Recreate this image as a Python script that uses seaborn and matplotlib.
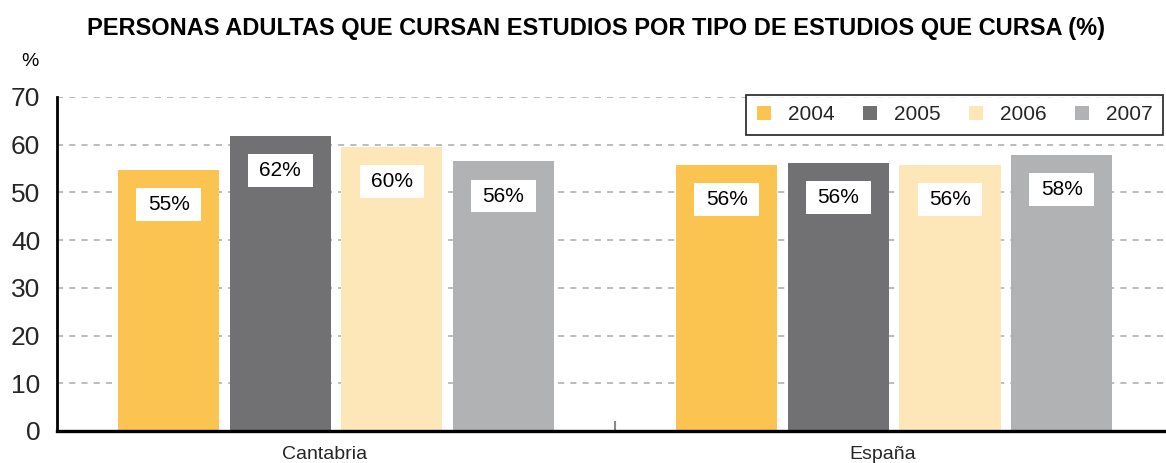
import matplotlib
matplotlib.use("Agg")
import matplotlib.pyplot as plt
import matplotlib.transforms as mtrans
import seaborn as sns
import pandas as pd
from matplotlib.patches import Patch, Rectangle

regions = ["Cantabria", "España"]
years = ["2004", "2005", "2006", "2007"]
cantabria = [54.7, 61.8, 59.6, 56.5]
espana = [55.7, 56.1, 55.7, 57.8]
labels_cantabria = ["55%", "62%", "60%", "56%"]
labels_espana = ["56%", "56%", "56%", "58%"]
colors = ["#FBC34F", "#717173", "#FDE6B8", "#B1B2B4"]
yticks = [0, 10, 20, 30, 40, 50, 60, 70]
title = "PERSONAS ADULTAS QUE CURSAN ESTUDIOS POR TIPO DE ESTUDIOS QUE CURSA (%)"

rows = []
for i, y in enumerate(years):
    rows.append({"region": regions[0], "year": y, "value": cantabria[i], "label": labels_cantabria[i]})
    rows.append({"region": regions[1], "year": y, "value": espana[i], "label": labels_espana[i]})
df = pd.DataFrame(rows)

sns.set_theme(style="white")
plt.rcParams["font.family"] = ["Liberation Sans", "DejaVu Sans"]

fig = plt.figure(figsize=(11.66, 4.63), dpi=100)
ax = fig.add_axes([57 / 1166, 1 - 431 / 463, 1 - 57 / 1166, (431 - 97) / 463])

sns.barplot(data=df, x="region", y="value", hue="year", order=regions, hue_order=years,
            palette=colors, width=0.8, gap=0.095, saturation=1, ax=ax, legend=False,
            linewidth=0, edgecolor="none")

ax.set_ylim(0, 70)
ax.set_xlim(-0.5, 1.487)
ax.set_yticks(yticks)
ax.set_yticklabels([str(t) for t in yticks], fontsize=19)
ax.tick_params(axis="y", length=0, pad=12)
ax.tick_params(axis="x", which="major", length=0, labelsize=14, pad=11)
ax.set_xlabel("")
ax.set_ylabel("")
ax.yaxis.grid(True, color="#AAAAAA", linestyle=(0, (4, 4)), linewidth=1.1)
ax.set_axisbelow(True)
for s in ["top", "right"]:
    ax.spines[s].set_visible(False)
ax.spines["left"].set_linewidth(2.0)
ax.spines["left"].set_color("black")
ax.spines["bottom"].set_linewidth(2.4)
ax.spines["bottom"].set_color("black")
ax.set_xticks([0.5], minor=True)
ax.tick_params(axis="x", which="minor", bottom=True, direction="in", length=7, width=1.5,
               color="#888888")

offset = mtrans.ScaledTranslation(-12 / 100, 0, fig.dpi_scale_trans)
for lab in ax.get_xticklabels():
    lab.set_transform(lab.get_transform() + offset)

# white value boxes
lab_map = {(r["region"], r["year"]): r["label"] for r in rows}
for yi, cont in enumerate(ax.containers):
    for ri, bar in enumerate(cont):
        h = bar.get_height()
        cx = bar.get_x() + bar.get_width() / 2
        bw = bar.get_width() * 0.64
        top = h - 3.8
        bh = 6.9
        ax.add_patch(Rectangle((cx - bw / 2, top - bh), bw, bh, facecolor="white",
                               edgecolor="none", zorder=3))
        ax.text(cx, top - bh / 2, lab_map[(regions[ri], years[yi])], ha="center",
                va="center", fontsize=15, color="black", zorder=4)

handles = [Patch(facecolor=c, edgecolor="none", label=y) for c, y in zip(colors, years)]
leg = fig.legend(handles=handles, loc="upper right", ncol=4, fontsize=15,
                 bbox_to_anchor=(1163 / 1166, 1 - 95 / 463), bbox_transform=fig.transFigure,
                 frameon=True, fancybox=False, handlelength=0.7, handleheight=0.7,
                 handletextpad=0.8, columnspacing=1.35, borderpad=0.5, borderaxespad=0)
leg.get_frame().set_edgecolor("black")
leg.get_frame().set_linewidth(1.3)

fig.text(596 / 1166, 1 - 28 / 463, title, ha="center", va="center", fontsize=17,
         fontweight="bold", color="black")
fig.text(30 / 1166, 1 - 62 / 463, "%", ha="center", va="center", fontsize=14, color="black")

fig.savefig("out.png", dpi=100)
